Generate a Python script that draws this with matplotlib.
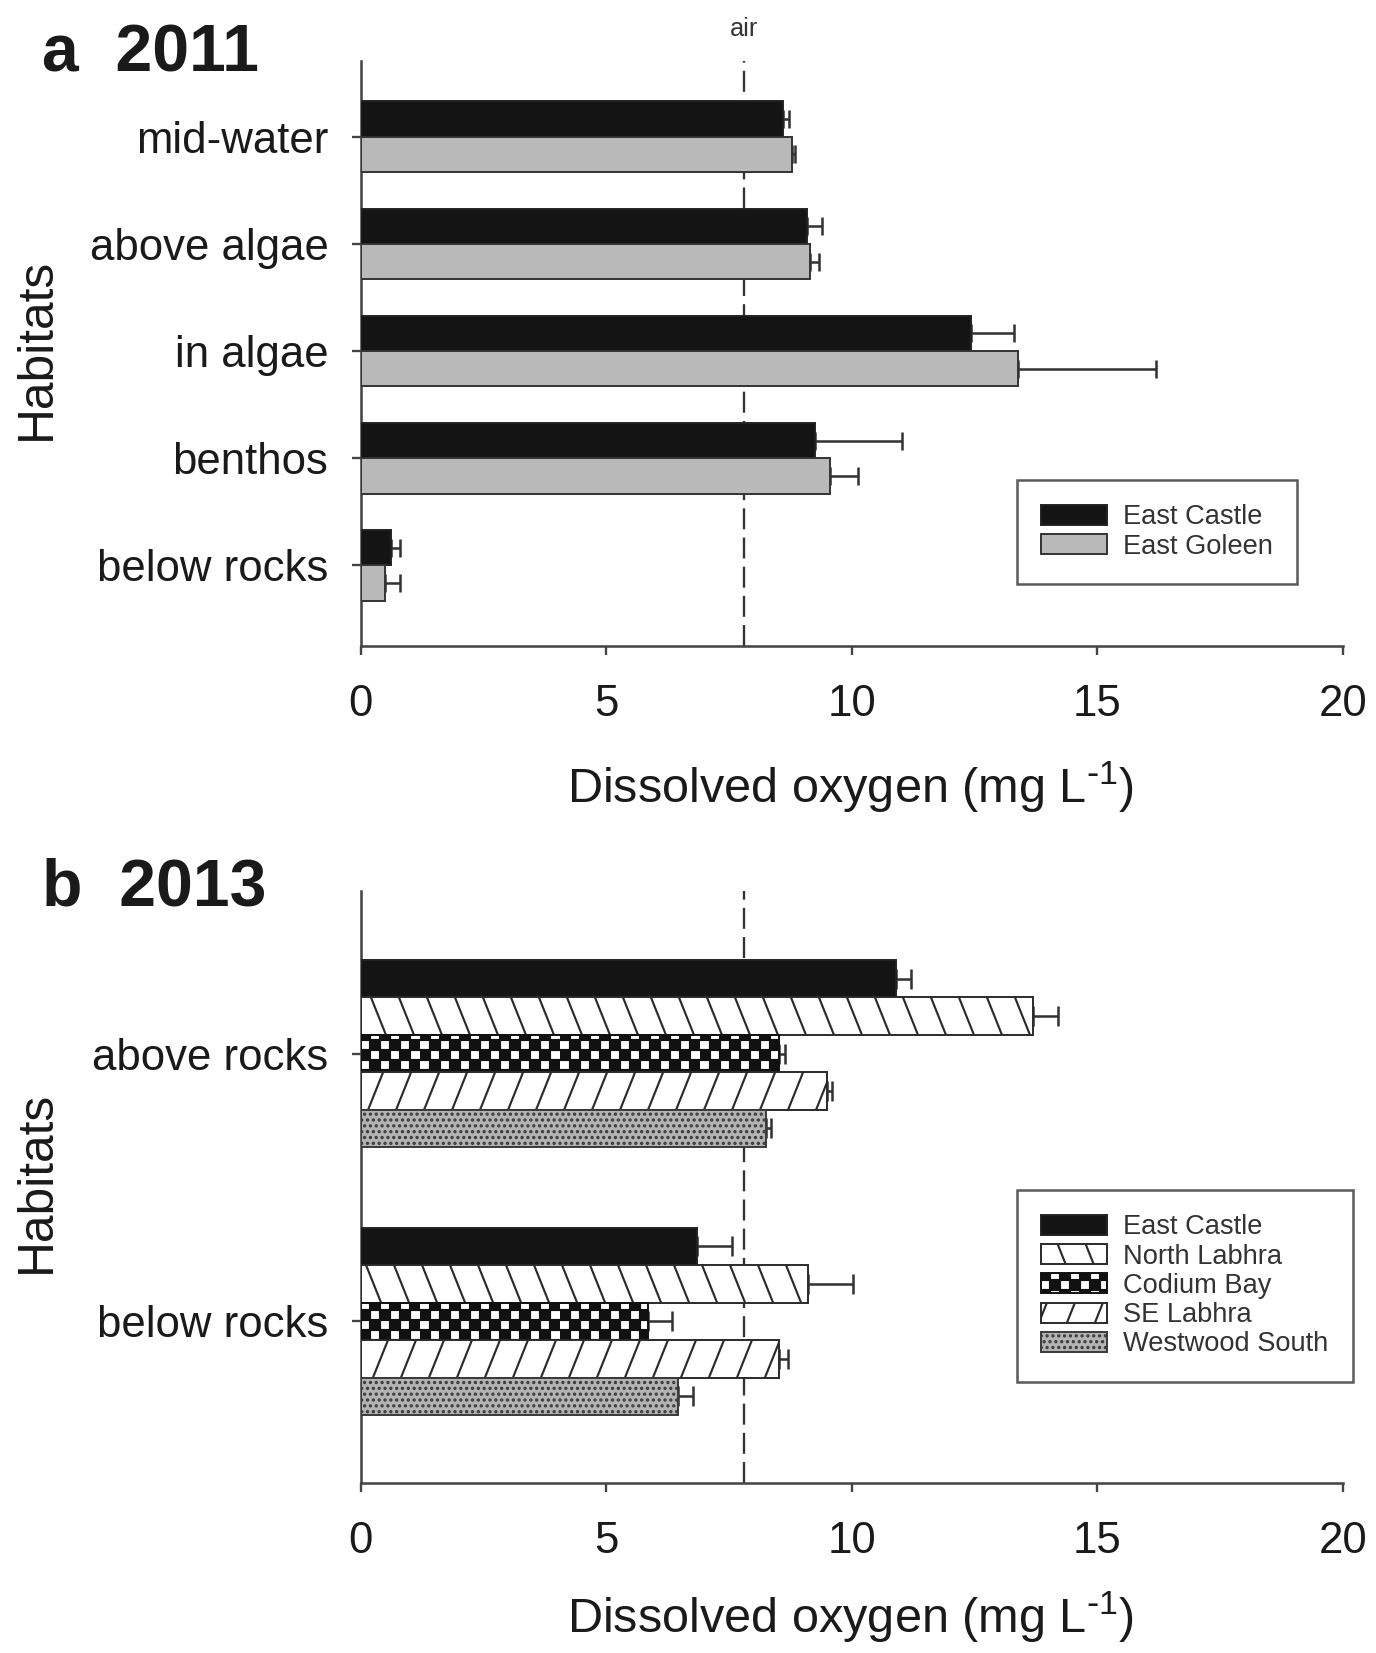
import warnings
import numpy as np
import matplotlib
matplotlib.use("Agg")
import matplotlib.pyplot as plt
from matplotlib import hatch as mhatch
from matplotlib.path import Path

warnings.filterwarnings("ignore")

plt.rcParams['font.family'] = ['Liberation Sans', 'DejaVu Sans']
plt.rcParams['mathtext.default'] = 'regular'
plt.rcParams['hatch.linewidth'] = 1.1

# panel a, 2011
habitats_a = ["below rocks", "benthos", "in algae", "above algae", "mid-water"]
east_castle_a = [0.62, 9.26, 12.43, 9.08, 8.60]
east_castle_a_err = [0.19, 1.76, 0.87, 0.32, 0.12]
east_goleen_a = [0.50, 9.56, 13.38, 9.16, 8.79]
east_goleen_a_err = [0.31, 0.57, 2.82, 0.18, 0.05]

# panel b, 2013
habitats_b = ["below rocks", "above rocks"]
sites_b = ["East Castle", "North Labhra", "Codium Bay", "SE Labhra", "Westwood South"]
vals_b = {
    "East Castle": [6.86, 10.90],
    "North Labhra": [9.10, 13.70],
    "Codium Bay": [5.86, 8.51],
    "SE Labhra": [8.51, 9.49],
    "Westwood South": [6.46, 8.25],
}
errs_b = {
    "East Castle": [0.71, 0.30],
    "North Labhra": [0.92, 0.50],
    "Codium Bay": [0.48, 0.13],
    "SE Labhra": [0.20, 0.10],
    "Westwood South": [0.30, 0.10],
}
air = 7.8


# sparse steep diagonals ('n' = \ , 's' = /) and a checkerboard ('c')
class SteepLines(mhatch.HatchPatternBase):
    def __init__(self, hatch, density):
        self.back = hatch.count('n') > 0
        self.fwd = hatch.count('s') > 0
        self.num_vertices = 12 * (int(self.back) + int(self.fwd))

    def set_vertices_and_codes(self, vertices, codes):
        k = 0
        for flag, sign in ((self.fwd, 1), (self.back, -1)):
            if not flag:
                continue
            for i in range(-1, 5):
                x0 = i / 5.0
                if sign == 1:
                    vertices[k] = [x0, 0.0]
                    vertices[k + 1] = [x0 + 0.4, 1.0]
                else:
                    vertices[k] = [x0, 1.0]
                    vertices[k + 1] = [x0 + 0.4, 0.0]
                codes[k] = Path.MOVETO
                codes[k + 1] = Path.LINETO
                k += 2


class Checker(mhatch.HatchPatternBase):
    def __init__(self, hatch, density):
        self.n = 14 if 'c' in hatch else 0
        self.num_vertices = (self.n * self.n // 2) * 5

    def set_vertices_and_codes(self, vertices, codes):
        n = self.n
        s = 1.0 / n
        k = 0
        for i in range(n):
            for j in range(n):
                if (i + j) % 2 == 0:
                    x, y = i * s, j * s
                    vertices[k:k + 5] = [[x, y], [x + s, y], [x + s, y + s], [x, y + s], [x, y]]
                    codes[k:k + 5] = [Path.MOVETO, Path.LINETO, Path.LINETO,
                                      Path.LINETO, Path.CLOSEPOLY]
                    k += 5


mhatch._hatch_types.append(SteepLines)
mhatch._hatch_types.append(Checker)

styles_b = {
    "East Castle": dict(color='#141414', edgecolor='#222222', hatch=None),
    "North Labhra": dict(color='white', edgecolor='#2a2a2a', hatch='n'),
    "Codium Bay": dict(color='white', edgecolor='#111111', hatch='c'),
    "SE Labhra": dict(color='white', edgecolor='#2a2a2a', hatch='s'),
    "Westwood South": dict(color='#b3b3b3', edgecolor='#3a3a3a', hatch='....'),
}

fig = plt.figure(figsize=(1376 / 140, 1653 / 140), dpi=140)
ax1 = fig.add_axes([0.262, 0.609, 0.714, 0.354])
ax2 = fig.add_axes([0.262, 0.103, 0.714, 0.358])

tick_fs = 22.5
err_kw = dict(fmt='none', ecolor='#333333', elinewidth=1.3, capsize=4.5, capthick=1.3, zorder=2)

# ---- panel a
y = np.arange(len(habitats_a))
h = 0.33
ax1.barh(y + h / 2, east_castle_a, height=h, color='#141414', edgecolor='#222222',
         linewidth=1.0, label="East Castle", zorder=3)
ax1.barh(y - h / 2, east_goleen_a, height=h, color='#b9b9b9', edgecolor='#333333',
         linewidth=1.0, label="East Goleen", zorder=3)
ax1.errorbar(east_castle_a, y + h / 2, xerr=[np.zeros(len(y)), east_castle_a_err], **err_kw)
ax1.errorbar(east_goleen_a, y - h / 2, xerr=[np.zeros(len(y)), east_goleen_a_err], **err_kw)
ax1.set_yticks(y)
ax1.set_yticklabels(habitats_a)
ax1.set_ylim(-0.755, 4.706)

# ---- panel b
yb = np.arange(len(habitats_b))
hb = 0.14
for i, s in enumerate(sites_b):
    off = (2 - i) * hb
    st = styles_b[s]
    ax2.barh(yb + off, vals_b[s], height=hb, color=st['color'], edgecolor=st['edgecolor'],
             hatch=st['hatch'], linewidth=1.0, label=s, zorder=3)
    ax2.errorbar(vals_b[s], yb + off, xerr=[np.zeros(len(yb)), errs_b[s]], **dict(err_kw, capsize=5))
ax2.set_yticks(yb)
ax2.set_yticklabels(habitats_b)
ax2.set_ylim(-0.603, 1.607)

for ax in (ax1, ax2):
    ax.axvline(air, color='#333333', lw=1.2, dashes=(9, 3.5), zorder=1)
    ax.set_xlim(0, 20)
    ax.set_xticks([0, 5, 10, 15, 20])
    for sp in ('top', 'right'):
        ax.spines[sp].set_visible(False)
    for sp in ('left', 'bottom'):
        ax.spines[sp].set_color('#444444')
        ax.spines[sp].set_linewidth(1.3)
    ax.tick_params(axis='x', direction='out', length=4.5, width=1.2, color='#444444',
                   labelsize=tick_fs, pad=15, labelcolor='#1a1a1a')
    ax.tick_params(axis='y', direction='out', length=4.5, width=1.2, color='#444444',
                   labelsize=tick_fs, pad=12, labelcolor='#1a1a1a')

ax1.text(air, 1.035, "air", transform=ax1.get_xaxis_transform(), ha='center', va='bottom',
         fontsize=13, color='#333333')

leg_kw = dict(loc='upper left', bbox_transform=fig.transFigure, borderaxespad=0,
              fontsize=14, frameon=True, fancybox=False, handlelength=2.4, handleheight=0.75,
              handletextpad=0.6, labelspacing=0.12, borderpad=0.9)
l1 = ax1.legend(bbox_to_anchor=(0.739, 0.7097), **leg_kw)
l2 = ax2.legend(bbox_to_anchor=(0.739, 0.2802), **leg_kw)
for lg in (l1, l2):
    lg.get_frame().set_edgecolor('#333333')
    lg.get_frame().set_linewidth(1.3)
    for t in lg.get_texts():
        t.set_color('#333333')

xlab = r"Dissolved oxygen (mg L$^{\text{-}1}$)"
fig.text(0.0305, 0.957, "a  2011", fontsize=34, fontweight='bold', ha='left', va='baseline', color='#1a1a1a')
fig.text(0.0305, 0.452, "b  2013", fontsize=34, fontweight='bold', ha='left', va='baseline', color='#1a1a1a')
fig.text(0.0267, 0.789, "Habitats", fontsize=25.5, rotation=90, ha='center', va='center', color='#1a1a1a')
fig.text(0.0267, 0.285, "Habitats", fontsize=25.5, rotation=90, ha='center', va='center', color='#1a1a1a')
fig.text(0.618, 0.5235, xlab, fontsize=25, ha='center', va='center', color='#1a1a1a')
fig.text(0.618, 0.0216, xlab, fontsize=25, ha='center', va='center', color='#1a1a1a')

fig.savefig("out.png", dpi=140, facecolor='white')
